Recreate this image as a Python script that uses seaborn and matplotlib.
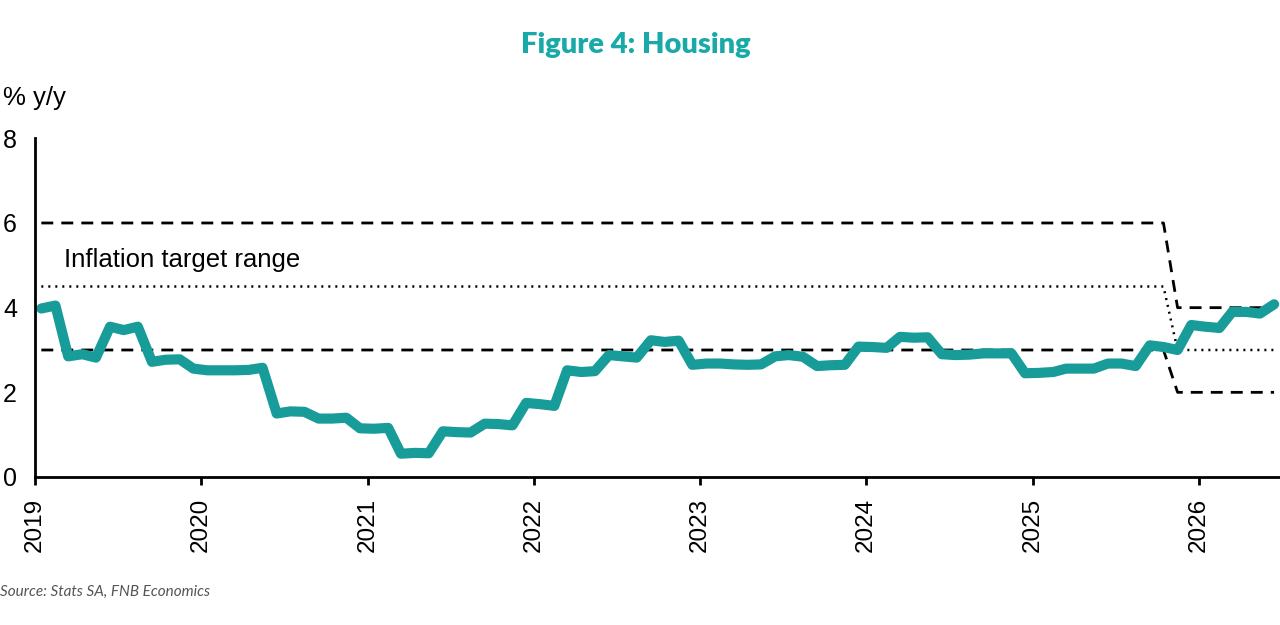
import pandas as pd
import matplotlib.pyplot as plt
import seaborn as sns

# Housing CPI, % y/y (monthly, Jan 2019 - Jun 2026)
housing = [3.98, 4.05, 2.85, 2.90, 2.82, 3.55, 3.47, 3.55, 2.72, 2.77, 2.78, 2.56,
           2.52, 2.52, 2.52, 2.53, 2.58, 1.50, 1.55, 1.54, 1.38, 1.38, 1.40, 1.15,
           1.14, 1.16, 0.55, 0.57, 0.56, 1.08, 1.06, 1.05, 1.26, 1.25, 1.22, 1.75,
           1.72, 1.68, 2.52, 2.48, 2.50, 2.88, 2.85, 2.82, 3.23, 3.19, 3.22, 2.65,
           2.68, 2.68, 2.66, 2.65, 2.66, 2.85, 2.88, 2.84, 2.62, 2.64, 2.65, 3.08,
           3.07, 3.05, 3.31, 3.29, 3.30, 2.90, 2.88, 2.89, 2.92, 2.92, 2.92, 2.45,
           2.46, 2.48, 2.56, 2.56, 2.56, 2.68, 2.68, 2.62, 3.11, 3.07, 3.00, 3.59,
           3.55, 3.52, 3.90, 3.90, 3.86, 4.08]

# Inflation target range: 3-6% (mid 4.5) until Oct 2025, 2-4% (mid 3) from Nov 2025
n_old, n_new = 82, 8
target_upper = [6.0] * n_old + [4.0] * n_new
target_lower = [3.0] * n_old + [2.0] * n_new
target_mid = [4.5] * n_old + [3.0] * n_new

year_ticks = ['2019', '2020', '2021', '2022', '2023', '2024', '2025', '2026']
y_ticks = [0, 2, 4, 6, 8]

dates = pd.date_range('2019-01-01', periods=len(housing), freq='MS') + pd.Timedelta(days=14)

teal = '#179c99'
title_teal = '#1aa9a9'

sns.set_style('white')
plt.rcParams['font.family'] = ['Liberation Sans', 'DejaVu Sans']

fig = plt.figure(figsize=(12.8, 6.25), dpi=100)
ax = fig.add_axes([0.0273, 0.2368, 0.9727, 0.5419])

# lineas de la banda de meta
dash = (0, (4.3, 2.9))
sns.lineplot(x=dates, y=target_upper, color='black', linewidth=2, linestyle=dash, ax=ax)
sns.lineplot(x=dates, y=target_lower, color='black', linewidth=2, linestyle=dash, ax=ax)
sns.lineplot(x=dates, y=target_mid, color='black', linewidth=1.8, linestyle=(0, (0.8, 2.0)), ax=ax)
sns.lineplot(x=dates, y=housing, color=teal, linewidth=7.3, ax=ax,
             solid_capstyle='round', solid_joinstyle='round')

ax.set_xlim(pd.Timestamp('2019-01-01'), pd.Timestamp('2026-06-28'))
ax.set_ylim(0, 8)
ax.set_xticks([pd.Timestamp(y + '-01-01') for y in year_ticks])
ax.set_xticklabels(year_ticks, rotation=90, fontsize=17.5)
ax.set_yticks(y_ticks)
ax.set_yticklabels([str(v) for v in y_ticks], fontsize=18)
ax.set_xlabel('')
ax.set_ylabel('')

for side in ['top', 'right']:
    ax.spines[side].set_visible(False)
for side in ['left', 'bottom']:
    ax.spines[side].set_color('black')
    ax.spines[side].set_linewidth(2)
ax.tick_params(axis='x', length=6, width=2, pad=9, colors='black', direction='out', bottom=True)
ax.tick_params(axis='y', length=0, pad=13, colors='black')

ax.text(pd.Timestamp('2019-03-05'), 5.12, 'Inflation target range', fontsize=18.5,
        va='center', ha='left', color='black')

fig.text(0.497, 0.928, 'Figure 4: Housing', fontsize=21, fontweight='heavy',
         color=title_teal, ha='center', va='center', family=['Lato', 'DejaVu Sans'])
fig.text(0.002, 0.843, '% y/y', fontsize=18.5, ha='left', va='center', color='black')
fig.text(0.0, 0.053, 'Source: Stats SA, FNB Economics', fontsize=11, style='italic',
         color='#555555', ha='left', va='center', family=['Lato', 'DejaVu Sans'])

fig.savefig('out.png', dpi=100)
